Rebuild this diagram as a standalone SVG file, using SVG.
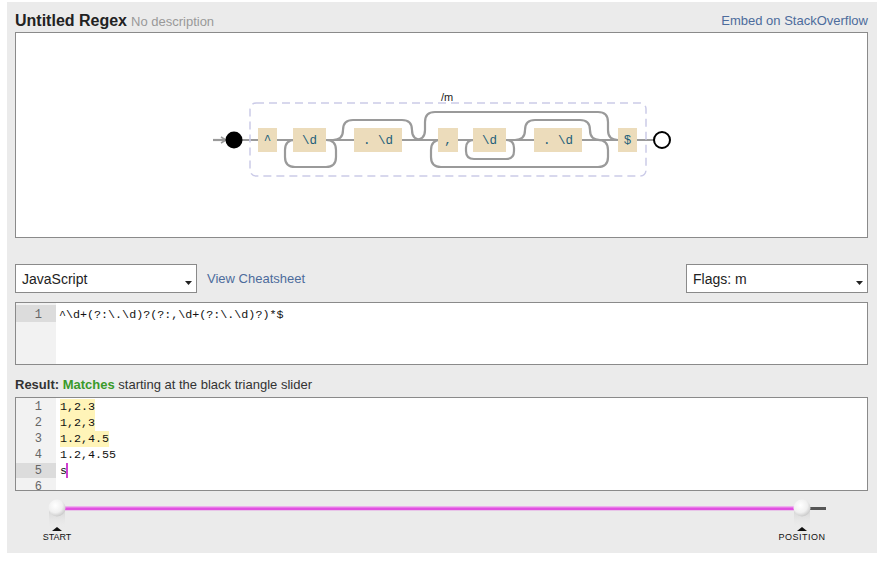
<svg xmlns="http://www.w3.org/2000/svg" width="884" height="561" viewBox="0 0 884 561">
<defs>
<style>
.sans{font-family:"Liberation Sans",Arial,sans-serif}
.mono{font-family:"Liberation Mono","Courier New",monospace}
.box{fill:#ecdcbb}
.lbl{font-family:"Liberation Mono","Courier New",monospace;font-size:12.5px;fill:#22607a;text-anchor:middle}
.rail{fill:none;stroke:#9a9a9a;stroke-width:2.2}
.panel{fill:#fff;stroke:#8a8a8a;stroke-width:1}
.ln{font-family:"Liberation Mono","Courier New",monospace;font-size:12px;fill:#666;text-anchor:end}
.code{font-family:"Liberation Mono","Courier New",monospace;font-size:11.7px;fill:#111}
.link{fill:#4d6c9c}
</style>
<radialGradient id="knob" cx="0.4" cy="0.35" r="0.7">
<stop offset="0" stop-color="#ffffff"/>
<stop offset="0.6" stop-color="#f0f0f0"/>
<stop offset="1" stop-color="#c4c4c4"/>
</radialGradient>
<linearGradient id="stem" x1="0" y1="0" x2="0" y2="1">
<stop offset="0" stop-color="#cfcfcf"/>
<stop offset="1" stop-color="#ebebeb" stop-opacity="0"/>
</linearGradient>
<marker id="arr" markerWidth="8" markerHeight="8" refX="6" refY="4" orient="auto" markerUnits="userSpaceOnUse">
<path d="M1,1 L6,4 L1,7" fill="none" stroke="#9a9a9a" stroke-width="1.5"/>
</marker>
</defs>

<rect x="0" y="0" width="884" height="561" fill="#fff"/>
<rect x="7" y="2" width="870" height="551" fill="#ebebeb"/>

<g id="header">
<text x="15" y="26" class="sans" font-size="16" font-weight="bold" fill="#222">Untitled Regex</text>
<text x="131" y="26" class="sans" font-size="13" fill="#999">No description</text>
<text x="868" y="25" class="sans link" font-size="13" text-anchor="end">Embed on StackOverflow</text>
</g>

<rect id="graph-panel" x="15.5" y="32.5" width="852" height="205" class="panel"/>

<g id="connectors">
<path d="M213,140 H226" class="rail" stroke-width="2" marker-end="url(#arr)"/>
<path d="M234,140 H662" class="rail"/>
<path d="M326,140 q10,0 10,10 v7 q0,10 -10,10 h-31 q-10,0 -10,-10 v-7 q0,-10 10,-10" class="rail"/>
<path d="M333,140 q10,0 10,-10 q0,-10 10,-10 h49 q10,0 10,10 q0,10 10,10" class="rail"/>
<path d="M415,140 q10,0 10,-10 v-8 q0,-10 10,-10 h163 q10,0 10,10 v8 q0,10 10,10" class="rail"/>
<path d="M598,140 q10,0 10,10 v7 q0,10 -10,10 h-157 q-10,0 -10,-10 v-7 q0,-10 10,-10" class="rail"/>
<path d="M506,140 q8,0 8,8 v3 q0,8 -8,8 h-32 q-8,0 -8,-8 v-3 q0,-8 8,-8" class="rail"/>
<path d="M515,140 q10,0 10,-10 q0,-10 10,-10 h45 q10,0 10,10 q0,10 10,10" class="rail"/>
</g>

<g id="group-m">
<rect x="250" y="103" width="396" height="73" rx="6" fill="none" stroke="#cbcbe8" stroke-width="1.5" stroke-dasharray="8,5"/>
<text x="447" y="101" class="sans" font-size="11" fill="#222" text-anchor="middle">/m</text>
</g>

<g id="start"><circle cx="234" cy="140" r="8.5" fill="#000"/></g>
<g id="end"><circle cx="662" cy="140" r="8" fill="#fff" stroke="#000" stroke-width="2"/></g>

<g id="n-caret"><rect x="258" y="128" width="19" height="24" class="box"/><text x="267.5" y="144" class="lbl">^</text></g>
<g id="n-d1"><rect x="293" y="128" width="33" height="24" class="box"/><text x="309.5" y="144" class="lbl">\d</text></g>
<g id="n-dotd1"><rect x="354" y="128" width="48" height="24" class="box"/><text x="378" y="144" class="lbl">. \d</text></g>
<g id="n-comma"><rect x="438" y="128" width="20" height="24" class="box"/><text x="448" y="144" class="lbl">,</text></g>
<g id="n-d2"><rect x="473" y="128" width="33" height="24" class="box"/><text x="489.5" y="144" class="lbl">\d</text></g>
<g id="n-dotd2"><rect x="534" y="128" width="48" height="24" class="box"/><text x="558" y="144" class="lbl">. \d</text></g>
<g id="n-dollar"><rect x="618" y="128" width="19" height="24" class="box"/><text x="627.5" y="144" class="lbl">$</text></g>

<g id="flavor">
<rect x="15.5" y="264.5" width="181" height="28" class="panel"/>
<text x="22" y="284" class="sans" font-size="14" fill="#222">JavaScript</text>
<path d="M185,281 h7 l-3.5,4 z" fill="#222"/>
<text x="207" y="283" class="sans link" font-size="13">View Cheatsheet</text>
</g>

<g id="flags">
<rect x="686.5" y="264.5" width="181" height="28" class="panel"/>
<text x="693" y="284" class="sans" font-size="14" fill="#222">Flags: m</text>
<path d="M856,281 h7 l-3.5,4 z" fill="#222"/>
</g>

<g id="regex-editor">
<rect x="15.5" y="302.5" width="852" height="62" class="panel"/>
<rect x="16" y="303" width="40" height="61" fill="#f2f2f2"/>
<rect x="16" y="305" width="40" height="17" fill="#dcdcdc"/>
<text x="42" y="318" class="ln">1</text>
<text x="59" y="318" class="code">^\d+(?:\.\d)?(?:,\d+(?:\.\d)?)*$</text>
</g>

<g id="result-label">
<text x="15" y="389" class="sans" font-size="13" fill="#333"><tspan font-weight="bold">Result: </tspan><tspan font-weight="bold" fill="#3a9a2a">Matches</tspan> starting at the black triangle slider</text>
</g>

<g id="test-editor">
<rect x="15.5" y="397.5" width="852" height="93" class="panel"/>
<rect x="16" y="398" width="40" height="92" fill="#f2f2f2"/>
<rect x="16" y="463" width="40" height="15" fill="#dcdcdc"/>
<rect x="60" y="399" width="35" height="32" fill="#fff4b8"/>
<rect x="60" y="431" width="49" height="16" fill="#fff4b8"/>
<text x="42" y="410" class="ln">1</text>
<text x="42" y="426" class="ln">2</text>
<text x="42" y="442" class="ln">3</text>
<text x="42" y="458" class="ln">4</text>
<text x="42" y="474" class="ln">5</text>
<text x="42" y="490" class="ln">6</text>
<text x="60" y="410" class="code">1,2.3</text>
<text x="60" y="426" class="code">1,2,3</text>
<text x="60" y="442" class="code">1.2,4.5</text>
<text x="60" y="458" class="code">1.2,4.55</text>
<text x="60" y="474" class="code">s</text>
<rect x="66" y="463" width="2" height="15" fill="#d040d0"/>
</g>

<g id="slider">
<line x1="60" y1="508.5" x2="802" y2="508.5" stroke="#e050e0" stroke-width="3.5"/>
<line x1="60" y1="507" x2="802" y2="507" stroke="#f0a0f0" stroke-width="1"/>
<line x1="802" y1="508.5" x2="826" y2="508.5" stroke="#555" stroke-width="3"/>
</g>

<g id="start-handle">
<rect x="49" y="508" width="16" height="20" fill="url(#stem)"/>
<circle cx="57" cy="508" r="8.5" fill="url(#knob)"/>
<path d="M52,531 L57,527 L62,531 z" fill="#111"/>
<text x="57" y="540" class="sans" font-size="9" fill="#111" text-anchor="middle">START</text>
</g>

<g id="position-handle">
<rect x="794" y="508" width="16" height="20" fill="url(#stem)"/>
<circle cx="802" cy="508" r="8.5" fill="url(#knob)"/>
<path d="M797,531 L802,527 L807,531 z" fill="#111"/>
<text x="802" y="540" class="sans" font-size="9" fill="#111" text-anchor="middle" letter-spacing="0.5">POSITION</text>
</g>
</svg>
